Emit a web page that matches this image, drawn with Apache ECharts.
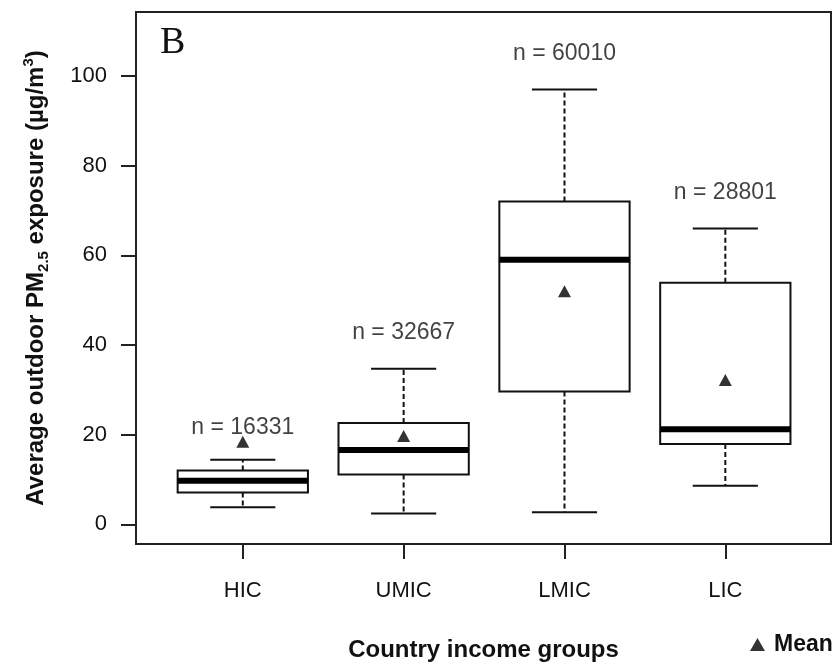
<!DOCTYPE html>
<html><head><meta charset="utf-8">
<script src="https://cdn.jsdelivr.net/npm/echarts@6/dist/echarts.min.js"></script>
<style>html,body{margin:0;padding:0;background:#fff}#c{width:832px;height:662px}</style>
</head><body><div id="c"></div>
<script>
const categories = ['HIC', 'UMIC', 'LMIC', 'LIC'];
const whiskerLow = [3.8, 2.4, 2.7, 8.6];
const q1 = [7.1, 11.1, 29.6, 17.9];
const median = [9.7, 16.6, 59.0, 21.2];
const q3 = [12.0, 22.6, 72.0, 53.9];
const whiskerHigh = [14.4, 34.7, 97.0, 66.0];
const means = [18.4, 19.7, 52.0, 32.2];
const counts = [16331, 32667, 60010, 28801];
const countLabelY = [21.6, 42.7, 104.9, 74.0];
const yTicks = [0, 20, 40, 60, 80, 100];
const xPositions = categories.map((c, i) => i + 1);

const FONT = '"Liberation Sans", Arial, sans-serif';
const INK = '#111';

function renderBox(params, api) {
  const x = api.value(0);
  const lo = api.coord([x, api.value(1)]);
  const b1 = api.coord([x, api.value(2)]);
  const md = api.coord([x, api.value(3)]);
  const b3 = api.coord([x, api.value(4)]);
  const hi = api.coord([x, api.value(5)]);
  const bw = api.size([0.81, 0])[0];
  const cw = bw / 2;
  const cx = lo[0];
  const stroke = '#111';
  return {
    type: 'group',
    children: [
      { type: 'line', shape: { x1: cx, y1: b3[1], x2: cx, y2: hi[1] }, style: { stroke, lineWidth: 2, lineDash: [5, 3] } },
      { type: 'line', shape: { x1: cx, y1: b1[1], x2: cx, y2: lo[1] }, style: { stroke, lineWidth: 2, lineDash: [5, 3] } },
      { type: 'line', shape: { x1: cx - cw / 2, y1: hi[1], x2: cx + cw / 2, y2: hi[1] }, style: { stroke, lineWidth: 2 } },
      { type: 'line', shape: { x1: cx - cw / 2, y1: lo[1], x2: cx + cw / 2, y2: lo[1] }, style: { stroke, lineWidth: 2 } },
      { type: 'rect', shape: { x: cx - bw / 2, y: b3[1], width: bw, height: b1[1] - b3[1] }, style: { fill: '#fff', stroke, lineWidth: 2 } },
      { type: 'line', shape: { x1: cx - bw / 2, y1: md[1], x2: cx + bw / 2, y2: md[1] }, style: { stroke: '#000', lineWidth: 6 } }
    ]
  };
}

const chart = echarts.init(document.getElementById('c'), null, { renderer: 'canvas' });
chart.setOption({
  animation: false,
  backgroundColor: '#fff',
  title: {
    text: 'B', left: 155, top: 19,
    textStyle: { fontFamily: '"Liberation Serif", "Times New Roman", serif', fontSize: 38, fontWeight: 'normal', color: INK }
  },
  legend: {
    data: [{ name: 'Mean', icon: 'triangle' }],
    left: 745, top: 628, itemWidth: 15, itemHeight: 13,
    textStyle: { fontFamily: FONT, fontSize: 23, fontWeight: 'bold', color: INK, padding: [0, 0, 0, 4] },
    selectedMode: false
  },
  grid: { left: 136, right: 1, top: 12, bottom: 118, show: true, borderColor: '#222', borderWidth: 2, backgroundColor: 'transparent', containLabel: false, outerBoundsMode: 'none' },
  xAxis: {
    type: 'value', min: 0.336, max: 4.657,
    name: 'Country income groups', nameLocation: 'middle', nameGap: 94,
    nameTextStyle: { fontFamily: FONT, fontSize: 24, fontWeight: 'bold', color: INK },
    axisLine: { show: false, onZero: false },
    splitLine: { show: false },
    axisTick: { show: true, customValues: xPositions, length: 15, lineStyle: { color: '#222', width: 2 } },
    axisLabel: { customValues: xPositions, formatter: v => categories[Math.round(v) - 1] || '', margin: 36, fontFamily: FONT, fontSize: 22, color: INK }
  },
  yAxis: {
    type: 'value', min: -4.39, max: 114.28,
    name: 'Average outdoor PM{sub|2.5} exposure (µg/m{sup|3})', nameLocation: 'middle', nameGap: 85,
    nameTextStyle: {
      fontFamily: FONT, fontSize: 24, fontWeight: 'bold', color: INK, lineHeight: 30,
      rich: {
        sub: { fontFamily: FONT, fontSize: 15, fontWeight: 'bold', color: INK, verticalAlign: 'bottom', lineHeight: 14, padding: [10, 0, 0, 0] },
        sup: { fontFamily: FONT, fontSize: 15, fontWeight: 'bold', color: INK, verticalAlign: 'top', lineHeight: 14, padding: [0, 0, 8, 0] }
      }
    },
    axisLine: { show: false, onZero: false },
    splitLine: { show: false },
    axisTick: { show: true, customValues: yTicks, length: 15, lineStyle: { color: '#222', width: 2 } },
    axisLabel: { customValues: yTicks, margin: 29, fontFamily: FONT, fontSize: 22, color: INK }
  },
  series: [
    {
      type: 'custom', name: 'box', renderItem: renderBox, silent: true,
      encode: { x: 0, y: [1, 2, 3, 4, 5] },
      data: xPositions.map((x, i) => [x, whiskerLow[i], q1[i], median[i], q3[i], whiskerHigh[i]]),
      z: 2
    },
    {
      type: 'scatter', name: 'Mean', symbol: 'triangle', symbolSize: [13, 12],
      itemStyle: { color: '#000' },
      data: xPositions.map((x, i) => [x, means[i]]),
      z: 5
    },
    {
      type: 'scatter', name: 'n', symbolSize: 0, silent: true,
      data: xPositions.map((x, i) => [x, countLabelY[i], counts[i]]),
      label: { show: true, position: 'inside', formatter: p => 'n = ' + p.value[2], fontFamily: FONT, fontSize: 23, color: INK },
      z: 6
    }
  ]
});
</script></body></html>
